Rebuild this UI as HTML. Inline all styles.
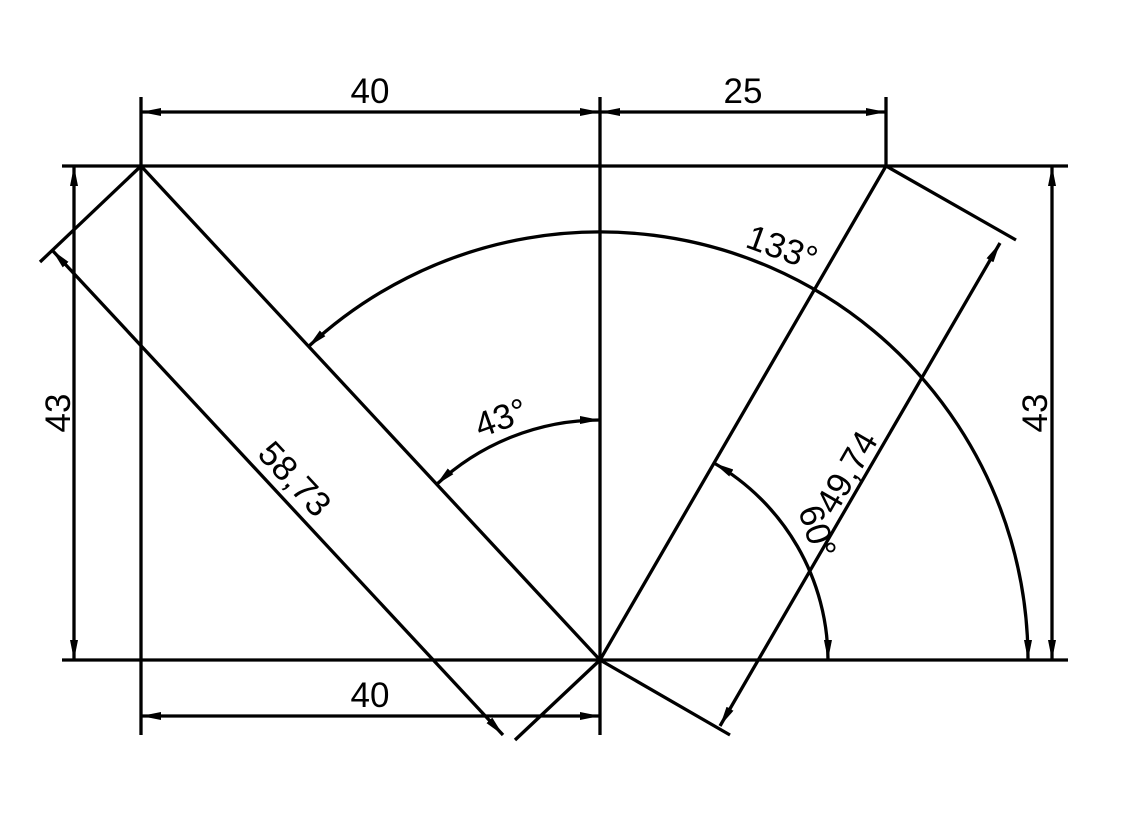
<!DOCTYPE html>
<html><head><meta charset="utf-8"><style>
html,body{margin:0;padding:0;background:#fff}
svg{display:block}
text{font-family:"Liberation Sans",Arial,sans-serif;font-size:35px;fill:#000}
</style></head><body>
<svg width="1128" height="816" viewBox="0 0 1128 816">
<defs>
<marker id="ar" viewBox="0 0 20 8" refX="20" refY="4" markerWidth="20" markerHeight="8" markerUnits="userSpaceOnUse" orient="auto-start-reverse">
<path d="M0,0 L20,4 L0,8 Z" fill="#000"/></marker>
</defs>
<g stroke="#000" stroke-width="3.3" fill="none">
<g>
<line x1="62" y1="166" x2="1068" y2="166"/>
<line x1="62" y1="660" x2="1068" y2="660"/>
<line x1="141" y1="166" x2="141" y2="660"/>
<line x1="600" y1="97" x2="600" y2="735"/>
<line x1="141" y1="97" x2="141" y2="166"/>
<line x1="886" y1="97" x2="886" y2="166"/>
<line x1="141" y1="660" x2="141" y2="735"/>
<line x1="141" y1="166" x2="600" y2="660"/>
<line x1="600" y1="660" x2="886" y2="166"/>
<line x1="141" y1="166" x2="40" y2="262"/>
<line x1="600" y1="660" x2="515" y2="740"/>
<line x1="886" y1="166" x2="1016" y2="240"/>
<line x1="600" y1="660" x2="730" y2="735"/>
</g>
<line x1="141" y1="112" x2="600" y2="112" marker-start="url(#ar)" marker-end="url(#ar)"/>
<line x1="600" y1="112" x2="886" y2="112" marker-start="url(#ar)" marker-end="url(#ar)"/>
<line x1="141" y1="716" x2="600" y2="716" marker-start="url(#ar)" marker-end="url(#ar)"/>
<line x1="74" y1="166" x2="74" y2="660" marker-start="url(#ar)" marker-end="url(#ar)"/>
<line x1="1052" y1="166" x2="1052" y2="660" marker-start="url(#ar)" marker-end="url(#ar)"/>
<line x1="52" y1="250" x2="503" y2="735" marker-start="url(#ar)" marker-end="url(#ar)"/>
<line x1="1000" y1="243" x2="720" y2="726" marker-start="url(#ar)" marker-end="url(#ar)"/>
<path d="M1028,660 A428,428 0 0 0 308,347" marker-start="url(#ar)" marker-end="url(#ar)"/>
<path d="M600,420 A240,240 0 0 0 436,485" marker-start="url(#ar)" marker-end="url(#ar)"/>
<path d="M828,660 A228,228 0 0 0 714,463" marker-start="url(#ar)" marker-end="url(#ar)"/>
</g>
<text x="370" y="103" text-anchor="middle">40</text>
<text x="743" y="103" text-anchor="middle">25</text>
<text x="370" y="707" text-anchor="middle">40</text>
<text transform="translate(70,413) rotate(-90)" text-anchor="middle">43</text>
<text transform="translate(1047,413) rotate(-90)" text-anchor="middle">43</text>
<text transform="translate(778,259) rotate(20)" text-anchor="middle">133°</text>
<text transform="translate(505,429) rotate(-20)" text-anchor="middle">43°</text>
<text transform="translate(286,487) rotate(47)" text-anchor="middle">58,73</text>
<text transform="translate(857,478) rotate(-60)" text-anchor="middle">49,74</text>
<text transform="translate(806,535) rotate(72)" text-anchor="middle">60°</text>
</svg>
</body></html>
